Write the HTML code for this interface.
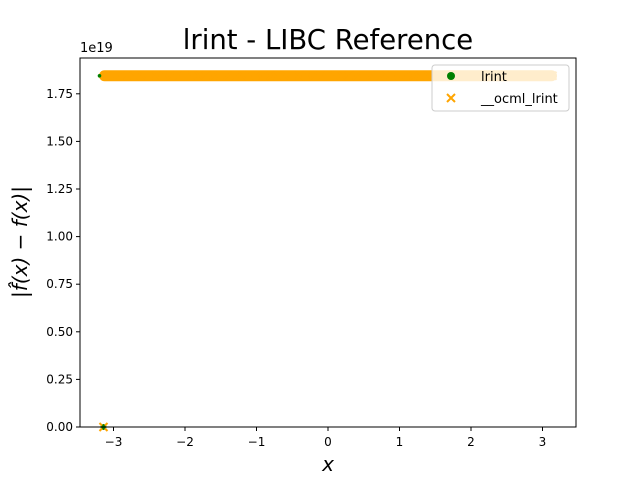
<!DOCTYPE html>
<html><head><meta charset="utf-8"><style>
body{margin:0;background:#fff;font-family:"DejaVu Sans","Liberation Sans",sans-serif}
svg text{font-family:"DejaVu Sans","Liberation Sans",sans-serif}
</style></head><body>
<svg id="c" width="640" height="480" xmlns="http://www.w3.org/2000/svg">
<rect width="640" height="480" fill="#fff"/>
<text x="328" y="49" font-size="27.5" text-anchor="middle">lrint - LIBC Reference</text>
<g id="plot"></g>
<rect x="80" y="58" width="496" height="369" fill="none" stroke="#000" stroke-width="1"/>
<g id="ticks"></g>
<text x="80" y="52" font-size="13">1e19</text>
<text x="328" y="471" font-size="20" font-style="italic" text-anchor="middle">x</text>
<text transform="translate(27,242) rotate(-90)" font-size="20" font-style="italic" text-anchor="middle">|f̂(x) − f(x)|</text>
<g>
<rect x="432" y="65" width="137" height="46" rx="3" fill="#fff" fill-opacity="0.8" stroke="#ccc"/>
<circle cx="451" cy="76" r="4" fill="green"/>
<text x="481" y="81" font-size="13">lrint</text>
<path d="M447 94 L455 102 M455 94 L447 102" stroke="orange" stroke-width="2"/>
<text x="481" y="103" font-size="13">__ocml_lrint</text>
</g>
</svg>
<script>
const xTicks=[-3,-2,-1,0,1,2,3];
const yTicks=[0,0.25,0.5,0.75,1.0,1.25,1.5,1.75];
const yTickLabels=["0.00","0.25","0.50","0.75","1.00","1.25","1.50","1.75"];
const xsTop=[-3.14,-3.0,-2.9,-2.8,-2.7,-2.6,-2.5,-2.4,-2.3,-2.2,-2.1,-2.0,-1.9,-1.8,-1.7,-1.6,-1.5,-1.4,-1.3,-1.2,-1.1,-1.0,-0.9,-0.8,-0.7,-0.6,-0.5,-0.4,-0.3,-0.2,-0.1,0.0,0.1,0.2,0.3,0.4,0.5,0.6,0.7,0.8,0.9,1.0,1.1,1.2,1.3,1.4,1.5,1.6,1.7,1.8,1.9,2.0,2.1,2.2,2.3,2.4,2.5,2.6,2.7,2.8,2.9,3.0,3.14];
const yTopValue=1.8447;
const xsBottom=[-3.14];
const yBottomValue=0;
const NS="http://www.w3.org/2000/svg";
function sx(v){return 328+v*71.5;}
function sy(v){return 427-v*190.4;}
const plot=document.getElementById('plot'), ticks=document.getElementById('ticks');
function mk(t,a,p){const e=document.createElementNS(NS,t);for(const k in a)e.setAttribute(k,a[k]);p.appendChild(e);return e;}
xTicks.forEach(v=>{
  const l=mk('line',{x1:sx(v),x2:sx(v),y1:427,y2:431,stroke:'#000'},ticks);
  
  
  const t=mk('text',{x:sx(v),y:446,'font-size':12,'text-anchor':'middle'},ticks);
  t.textContent=(v<0?'−'+(-v):v);
  
  
});
yTicks.forEach((v,i)=>{
  const l=mk('line',{x1:76,x2:80,y1:sy(v),y2:sy(v),stroke:'#000'},ticks);
  
  
  const t=mk('text',{x:73,y:sy(v)+4,'font-size':12,'text-anchor':'end'},ticks);
  t.textContent=yTickLabels[i];
  
  
});
function dot(x,y,r,dx){const c=mk('circle',{cx:sx(x)+(dx||0),cy:sy(y),r:r,fill:'green'},plot);
  
  }
function cross(x,y){const X=sx(x),Y=sy(y);const p=mk('path',{d:`M${X-4} ${Y-4}L${X+4} ${Y+4}M${X+4} ${Y-4}L${X-4} ${Y+4}`,stroke:'orange','stroke-width':2},plot);
  
  }
xsTop.forEach(x=>dot(x,yTopValue,3));
xsBottom.forEach(x=>dot(x,yBottomValue,3));
const band=mk('line',{x1:sx(xsTop[0])+1,x2:sx(xsTop[xsTop.length-1])-1,y1:sy(yTopValue),y2:sy(yTopValue),stroke:'orange','stroke-width':11,'stroke-linecap':'round'},plot);


xsTop.slice(1).forEach(x=>cross(x,yTopValue));
dot(xsTop[0],yTopValue,1.8,-4);
xsBottom.forEach(x=>cross(x,yBottomValue));
xsBottom.forEach(x=>dot(x,yBottomValue,2));
</script>
</body></html>
